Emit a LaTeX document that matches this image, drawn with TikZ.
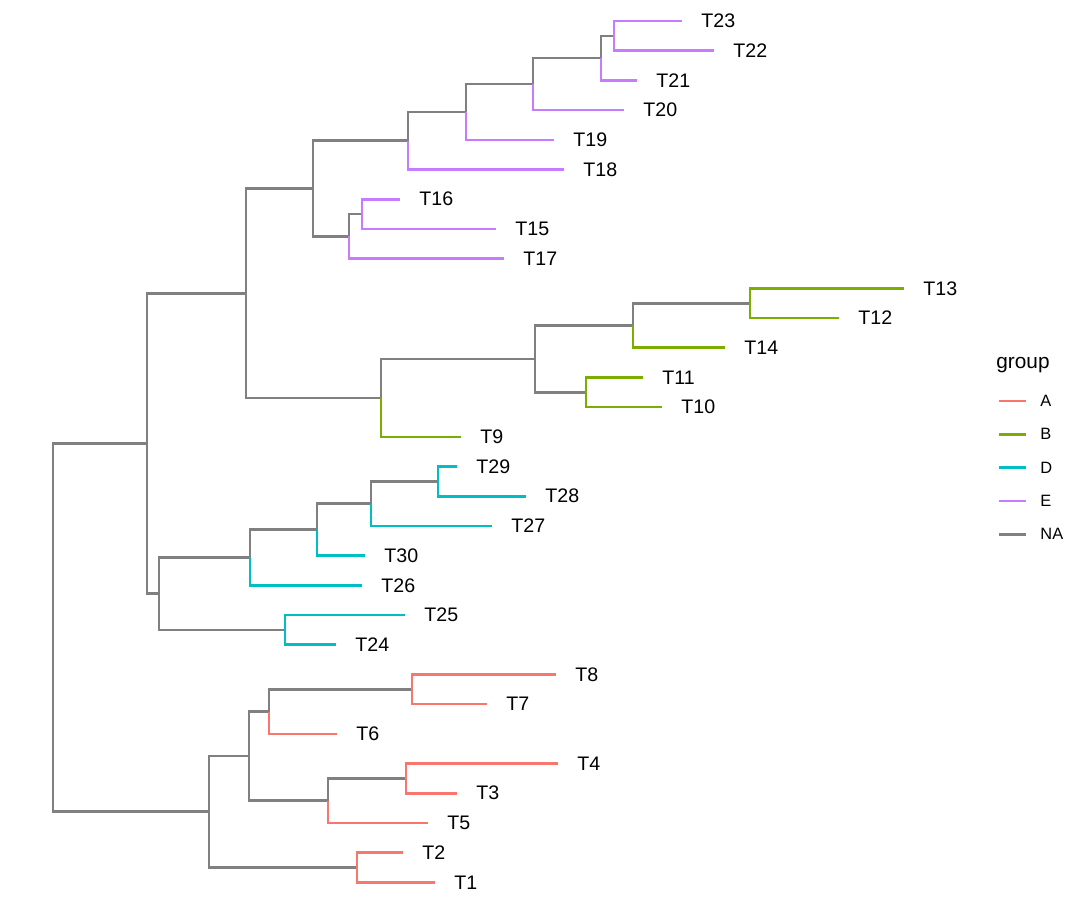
\documentclass[tikz,border=0pt]{standalone}
\usepackage{fontspec}
\setmainfont{Liberation Sans}
\usetikzlibrary{positioning}
\definecolor{grpA}{HTML}{F8766D}
\definecolor{grpB}{HTML}{7CAE00}
\definecolor{grpD}{HTML}{00BFC4}
\definecolor{grpE}{HTML}{C77CFF}
\definecolor{grpNA}{gray}{0.5}
\tikzset{
	branch/.style={draw=grpNA, line width=1.3pt, line join=miter},
	tiplab/.style={anchor=west, inner sep=0pt, xshift=9.5pt, font=\fontsize{9.8}{11}\selectfont},
	key/.style={line width=1.3pt},
	keylab/.style={anchor=west, inner sep=0pt, font=\fontsize{8.2}{10}\selectfont},
}

\begin{document}
\begin{tikzpicture}[x=0.5pt, y=-0.5pt]
\useasboundingbox (0,0) rectangle (1080,915);
% the inner nodes
\coordinate (root) at (53,627.6);
\coordinate (nTop) at (147,443.4);
\coordinate (nUp) at (246,293.2);
\coordinate (nE) at (313,188.5);
\coordinate (n18) at (408,140.7);
\coordinate (n19) at (466,112);
\coordinate (n20) at (533,84.1);
\coordinate (n21) at (601,58.1);
\coordinate (n22) at (614,35.9);
\coordinate (n17) at (349,236.3);
\coordinate (n15) at (362,214);
\coordinate (nB) at (381,397.8);
\coordinate (nB2) at (535,358.8);
\coordinate (n14) at (633,325.4);
\coordinate (n12) at (750,303.2);
\coordinate (n10) at (586,392.2);
\coordinate (nD) at (159,593.7);
\coordinate (n26) at (250,557.5);
\coordinate (n30) at (317,529.6);
\coordinate (n27) at (371,503.6);
\coordinate (n28) at (438,481.4);
\coordinate (n24) at (285,629.9);
\coordinate (nA) at (209,811.7);
\coordinate (nA2) at (249,756);
\coordinate (n6) at (269,711.5);
\coordinate (n7) at (412,689.3);
\coordinate (n5) at (328,800.6);
\coordinate (n3) at (406,778.4);
\coordinate (n1) at (357,867.5);

% the inner branches
\draw[branch] (root) |- (nTop);
\draw[branch] (root) |- (nA);
\draw[branch] (nTop) |- (nUp);
\draw[branch] (nTop) |- (nD);
\draw[branch] (nUp) |- (nE);
\draw[branch] (nUp) |- (nB);
\draw[branch] (nE) |- (n18);
\draw[branch] (nE) |- (n17);
\draw[branch] (n18) |- (n19);
\draw[branch] (n19) |- (n20);
\draw[branch] (n20) |- (n21);
\draw[branch] (n21) |- (n22);
\draw[branch] (n17) |- (n15);
\draw[branch] (nB) |- (nB2);
\draw[branch] (nB2) |- (n14);
\draw[branch] (nB2) |- (n10);
\draw[branch] (n14) |- (n12);
\draw[branch] (nD) |- (n26);
\draw[branch] (nD) |- (n24);
\draw[branch] (n26) |- (n30);
\draw[branch] (n30) |- (n27);
\draw[branch] (n27) |- (n28);
\draw[branch] (nA) |- (nA2);
\draw[branch] (nA) |- (n1);
\draw[branch] (nA2) |- (n6);
\draw[branch] (nA2) |- (n5);
\draw[branch] (n6) |- (n7);
\draw[branch] (n5) |- (n3);

% the tips
\foreach \tip/\up/\xx/\yy/\grp in {
	T23/n22/682/21/E, T22/n22/714/50.7/E, T21/n21/637/80.4/E,
	T20/n20/624/110.1/E, T19/n19/554/139.8/E, T18/n18/564/169.5/E,
	T16/n15/400/199.2/E, T15/n15/496/228.9/E, T17/n17/504/258.6/E,
	T13/n12/904/288.3/B, T12/n12/839/318/B, T14/n14/725/347.7/B,
	T11/n10/643/377.4/B, T10/n10/662/407.1/B, T9/nB/461/436.8/B,
	T29/n28/457/466.5/D, T28/n28/526/496.2/D, T27/n27/492/525.9/D,
	T30/n30/365/555.6/D, T26/n26/362/585.3/D, T25/n24/405/615/D,
	T24/n24/336/644.7/D, T8/n7/556/674.4/A, T7/n7/487/704.1/A,
	T6/n6/337/733.8/A, T4/n3/558/763.5/A, T3/n3/457/793.2/A,
	T5/n5/428/822.9/A, T2/n1/403/852.6/A, T1/n1/435/882.3/A}
{
	\coordinate (\tip) at (\xx,\yy);
	\draw[branch, draw=grp\grp] (\up) |- (\tip);
	\node[tiplab] (l\tip) at (\tip) {\tip};
}

% the legend
\node[anchor=west, inner sep=0pt, font=\fontsize{10.4}{12}\selectfont] (title) at (996,365) {group};
\foreach \grp [count=\i] in {A,B,D,E,NA}
{
	\draw[key, grp\grp] (999,367.7+33.3*\i) -- ++(27,0) coordinate (k\grp);
	\node[keylab, right=7pt of k\grp] (g\grp) {\grp};
}
\end{tikzpicture}
\end{document}
